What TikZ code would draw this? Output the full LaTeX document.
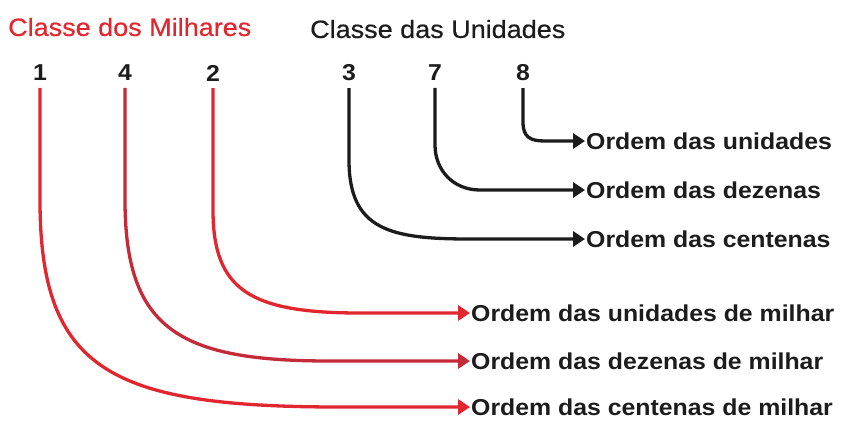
\documentclass[tikz,border=0pt]{standalone}
\usepackage{fontspec}
\setmainfont{Liberation Sans}[FakeStretch=1.08]
\newfontfamily\classefont{Liberation Sans}[FakeStretch=1.08, FakeBold=0.5]
\usepackage{xcolor}
\usetikzlibrary{arrows.meta}
\definecolor{milhar}{HTML}{E2262F}
\definecolor{milharesc}{HTML}{C42A38}
\definecolor{unid}{HTML}{1C1C1C}

\begin{document}
\begin{tikzpicture}[x=1pt,y=-1pt,
  classe/.style={anchor=west, inner sep=0pt, font=\classefont\fontsize{25}{28}\selectfont},
  num/.style={inner sep=0pt, outer sep=7pt, text=unid, font=\bfseries\fontsize{23}{26}\selectfont},
  ordem/.style={anchor=west, inner sep=1pt, text=unid, font=\bfseries\fontsize{23}{26}\selectfont},
  liga/.style={line width=3.3pt, -{Triangle[length=12pt,width=15pt]}},
  ligam/.style={liga, milhar},
  ligau/.style={liga, unid}]
  \useasboundingbox (0,0) rectangle (842,421);
  % classes
  \node[classe, text=milhar] (CM) at (8,27) {Classe dos Milhares};
  \node[classe, text=unid] (CU) at (310,29) {Classe das Unidades};
  % algarismos
  \node[num] (N1) at (40,73)  {1};
  \node[num] (N4) at (125,73) {4};
  \node[num] (N2) at (213,73) {2};
  \node[num] (N3) at (349,73) {3};
  \node[num] (N7) at (435,73) {7};
  \node[num] (N8) at (523,73) {8};
  % ordens
  \node[ordem] (OU)  at (585,141) {Ordem das unidades};
  \node[ordem] (OD)  at (585,190) {Ordem das dezenas};
  \node[ordem] (OC)  at (585,239) {Ordem das centenas};
  \node[ordem] (OUM) at (470,313) {Ordem das unidades de milhar};
  \node[ordem] (ODM) at (470,361) {Ordem das dezenas de milhar};
  \node[ordem] (OCM) at (470,407) {Ordem das centenas de milhar};
  % unidades
  \draw[ligau] (N8.south) -- (523,122) .. controls (523,137) and (530,141) .. (545,141) -- (OU.west);
  \draw[ligau] (N7.south) -- (435,145) .. controls (435,170) and (453,190) .. (480,190) -- (OD.west);
  \draw[ligau] (N3.south) -- (349,160) .. controls (349,230) and (390,239) .. (470,239) -- (OC.west);
  % milhares
  \draw[ligam] (N2.south) -- (213,210) .. controls (213,290) and (250,313) .. (360,313) -- (OUM.west);
  \draw[ligam, milharesc] (N4.south) -- (125,200) .. controls (125,330) and (180,361) .. (330,361) -- (ODM.west);
  \draw[ligam] (N1.south) -- (40,200) .. controls (40,370) and (110,407) .. (340,407) -- (OCM.west);
\end{tikzpicture}
\end{document}
